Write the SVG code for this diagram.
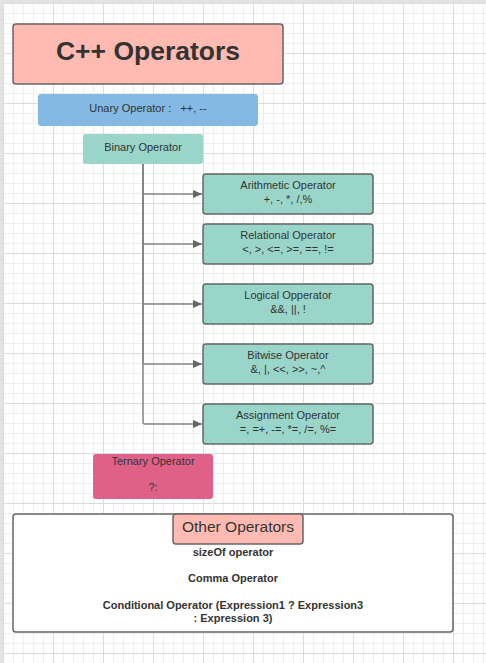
<svg xmlns="http://www.w3.org/2000/svg" width="486" height="663" viewBox="0 0 486 663">
<style>
text{font-family:"Liberation Sans",Arial,sans-serif;fill:#333;text-anchor:middle}
.t11{font-size:11px}
.b11{font-size:11px;font-weight:bold}
.op{fill:#9ad5ca;stroke:#666;stroke-width:1.5}
.conn{fill:none;stroke:#858585;stroke-width:1.5}
</style>
<defs>
<pattern id="grid" patternUnits="userSpaceOnUse" x="3" y="3" width="50" height="50">
<rect x="10" y="0" width="1" height="50" fill="#ededed"/>
<rect x="20" y="0" width="1" height="50" fill="#ededed"/>
<rect x="30" y="0" width="1" height="50" fill="#ededed"/>
<rect x="40" y="0" width="1" height="50" fill="#ededed"/>
<rect x="0" y="10" width="50" height="1" fill="#ededed"/>
<rect x="0" y="20" width="50" height="1" fill="#ededed"/>
<rect x="0" y="30" width="50" height="1" fill="#ededed"/>
<rect x="0" y="40" width="50" height="1" fill="#ededed"/>
<rect x="0" y="0" width="1" height="50" fill="#dcdcdc"/>
<rect x="0" y="0" width="50" height="1" fill="#dcdcdc"/>
</pattern>
<marker id="arr" markerWidth="10" markerHeight="8" refX="9" refY="4" orient="auto" markerUnits="userSpaceOnUse">
<path d="M0,0 L9,4 L0,8 Z" fill="#666"/>
</marker>
</defs>
<rect width="486" height="663" fill="#fff"/>
<rect x="3" y="3" width="483" height="660" fill="url(#grid)"/>
<rect x="0" y="0" width="486" height="3" fill="#e3e3e3"/>
<rect x="0" y="0" width="3" height="663" fill="#e3e3e3"/>

<g id="connectors">
<path class="conn" d="M143,164 V192 Q143,194 145,194 H202" marker-end="url(#arr)"/>
<path class="conn" d="M143,164 V242 Q143,244 145,244 H202" marker-end="url(#arr)"/>
<path class="conn" d="M143,164 V302 Q143,304 145,304 H202" marker-end="url(#arr)"/>
<path class="conn" d="M143,164 V362 Q143,364 145,364 H202" marker-end="url(#arr)"/>
<path class="conn" d="M143,164 V422 Q143,424 145,424 H202" marker-end="url(#arr)"/>
</g>

<g id="title">
<rect x="13" y="24" width="270" height="60" rx="3" fill="#ffbbb1" stroke="#666" stroke-width="1.5"/>
<text x="148" y="60" style="font-size:26.5px;font-weight:bold">C++ Operators</text>
</g>

<g id="unary">
<rect x="38" y="94" width="220" height="32" rx="3" fill="#83b9e3"/>
<text class="t11" x="148" y="112" xml:space="preserve">Unary Operator :   ++, --</text>
</g>

<g id="binary">
<rect x="83" y="134" width="120" height="30" rx="3" fill="#9ad5ca"/>
<text class="t11" x="143" y="151">Binary Operator</text>
</g>

<g id="arithmetic">
<rect class="op" x="203" y="174" width="170" height="40" rx="3"/>
<text class="t11" x="288" y="188.5">Arithmetic Operator</text>
<text class="t11" x="288" y="202.5">+, -, *, /,%</text>
</g>

<g id="relational">
<rect class="op" x="203" y="224" width="170" height="40" rx="3"/>
<text class="t11" x="288" y="238.5">Relational Operator</text>
<text class="t11" x="288" y="252.5">&lt;, &gt;, &lt;=, &gt;=, ==, !=</text>
</g>

<g id="logical">
<rect class="op" x="203" y="284" width="170" height="40" rx="3"/>
<text class="t11" x="288" y="298.5">Logical Opperator</text>
<text class="t11" x="288" y="312.5">&amp;&amp;, ||, !</text>
</g>

<g id="bitwise">
<rect class="op" x="203" y="344" width="170" height="40" rx="3"/>
<text class="t11" x="288" y="358.5">Bitwise Operator</text>
<text class="t11" x="288" y="372.5">&amp;, |, &lt;&lt;, &gt;&gt;, ~,^</text>
</g>

<g id="assignment">
<rect class="op" x="203" y="404" width="170" height="40" rx="3"/>
<text class="t11" x="288" y="418.5">Assignment Operator</text>
<text class="t11" x="288" y="432.5">=, =+, -=, *=, /=, %=</text>
</g>

<g id="ternary">
<rect x="93" y="454" width="120" height="45" rx="3" fill="#df6187"/>
<text class="t11" x="153" y="464.5">Ternary Operator</text>
<text class="t11" x="153" y="491">?:</text>
</g>

<g id="other">
<rect x="13" y="514" width="440" height="118" rx="3" fill="#fff" stroke="#666" stroke-width="1.5"/>
<rect x="173" y="514" width="130" height="30" rx="3" fill="#ffbbb1" stroke="#666" stroke-width="1.5"/>
<text x="238" y="532" style="font-size:15.5px">Other Operators</text>
<text class="b11" x="233" y="556">sizeOf operator</text>
<text class="b11" x="233" y="582">Comma Operator</text>
<text class="b11" x="233" y="609">Conditional Operator (Expression1 ? Expression3</text>
<text class="b11" x="233" y="622">: Expression 3)</text>
</g>
</svg>
